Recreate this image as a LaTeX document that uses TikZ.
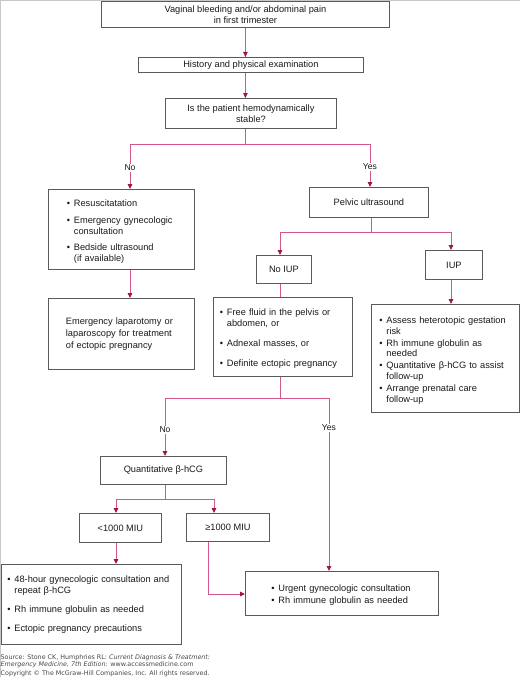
\documentclass[tikz,border=0pt]{standalone}
\usepackage{fontspec}
\setmainfont{Liberation Sans}
\newfontfamily\footfont{DejaVu Sans}
\usetikzlibrary{arrows.meta}
\definecolor{lnpink}{RGB}{208,88,138}
\definecolor{tipred}{RGB}{160,20,72}
\definecolor{boxgray}{RGB}{90,90,90}
\definecolor{txt}{RGB}{25,25,25}
\definecolor{edgegray}{RGB}{200,200,200}
\definecolor{foot}{RGB}{70,70,70}
\newcommand\bitem[1]{\par\hangindent=7pt\hangafter=1\noindent\makebox[7pt][l]{\textbullet}#1\par}
\begin{document}
\begin{tikzpicture}[x=1pt,y=-1pt,
  box/.style={draw=boxgray, line width=0.85pt, rectangle, inner sep=0pt, anchor=north west,
    font=\fontsize{9.25}{11}\selectfont, text=txt},
  cbox/.style={box, align=center},
  lbox/.style={box, align=left},
  ln/.style={draw=lnpink, line width=0.9pt},
  arr/.style={ln, -{Triangle[width=4.5pt,length=5pt,color=tipred]}},
  lbl/.style={fill=white, inner sep=1pt, font=\fontsize{8.6}{10}\selectfont, text=txt},
  foottxt/.style={anchor=base west, inner sep=0pt, font=\footfont\fontsize{6.35}{7}\selectfont, text=foot}]
\useasboundingbox (0,0) rectangle (520,677);
\draw[edgegray, line width=1pt] (0.5,0) -- (0.5,677);
\draw[edgegray, line width=1pt] (0,0.5) -- (520,0.5);

% boxes
\node[cbox, minimum width=288pt, minimum height=26pt] (top) at (101,1) {Vaginal bleeding and/or abdominal pain\\in first trimester};
\node[cbox, minimum width=225pt, minimum height=15pt] (hist) at (138,57) {History and physical examination};
\node[cbox, minimum width=171pt, minimum height=30pt] (stable) at (165,98) {Is the patient hemodynamically\\stable?};
\node[lbox, text width=146pt, minimum height=80pt] (resus) at (48,189) {\leftskip=18.5pt
  \bitem{Resuscitatation}\vspace{5.5pt}
  \bitem{Emergency gynecologic\newline consultation}\vspace{5pt}
  \bitem{Bedside ultrasound\newline (if available)}};
\node[lbox, text width=146pt, minimum height=71pt, font=\fontsize{9.25}{12}\selectfont] (lap) at (48,298) {\leftskip=17.5pt
  Emergency laparotomy or\newline laparoscopy for treatment\newline of ectopic pregnancy\par};
\node[cbox, minimum width=119pt, minimum height=30pt] (pelvic) at (309,187) {Pelvic ultrasound};
\node[cbox, minimum width=55pt, minimum height=28pt] (noiup) at (256,255) {No IUP};
\node[cbox, minimum width=57pt, minimum height=29pt] (iup) at (425,250) {IUP};
\node[lbox, text width=139pt, minimum height=79pt] (free) at (213,297) {\leftskip=6.5pt
  \bitem{Free fluid in the pelvis or\newline abdomen, or}\vspace{9pt}
  \bitem{Adnexal masses, or}\vspace{9pt}
  \bitem{Definite ectopic pregnancy}};
\node[lbox, text width=148pt, minimum height=108pt, font=\fontsize{9.25}{10.6}\selectfont] (assess) at (371,304) {\leftskip=8pt
  \bitem{Assess heterotopic gestation\newline risk}\vspace{1.5pt}
  \bitem{Rh immune globulin as\newline needed}\vspace{1.5pt}
  \bitem{Quantitative β-hCG to assist\newline follow-up}\vspace{1.5pt}
  \bitem{Arrange prenatal care\newline follow-up}};
\node[cbox, minimum width=126pt, minimum height=28pt] (quant) at (100,456) {Quantitative β-hCG};
\node[cbox, minimum width=82pt, minimum height=29pt] (lt) at (79,513) {<1000 MIU};
\node[cbox, minimum width=83pt, minimum height=28pt] (ge) at (186,513) {≥1000 MIU};
\node[lbox, text width=180pt, minimum height=80pt] (h48) at (0.5,564) {\leftskip=6.5pt
  \bitem{48-hour gynecologic consultation and\newline repeat β-hCG}\vspace{8pt}
  \bitem{Rh immune globulin as needed}\vspace{8pt}
  \bitem{Ectopic pregnancy precautions}\vspace{4pt}};
\node[lbox, text width=193pt, minimum height=44pt] (urgent) at (245,571) {\leftskip=26pt
  \bitem{Urgent gynecologic consultation}\vspace{1pt}
  \bitem{Rh immune globulin as needed}};

% junctions
\coordinate (j1) at (245,144);
\coordinate (jNo) at (130,144);
\coordinate (jYes) at (370,144);
\coordinate (j2) at (371,232);
\coordinate (jA) at (280,232);
\coordinate (jB) at (451,232);
\coordinate (j3) at (280,398);
\coordinate (jC) at (165,398);
\coordinate (jD) at (329,398);
\coordinate (j4) at (165,499);
\coordinate (jE) at (116,499);
\coordinate (jF) at (214,499);
\coordinate (jG) at (208,594);

% connectors
\draw[arr] (top.south) -- (top.south |- hist.north);
\draw[arr] (hist.south -| top.south) -- (stable.north -| top.south);
\draw[ln] (stable.south -| j1) -- (j1);
\draw[ln] (jNo) -- (jYes);
\draw[arr] (jNo) -- (jNo |- resus.north);
\draw[arr] (jYes) -- (jYes |- pelvic.north);
\draw[arr] (resus.south -| jNo) -- (lap.north -| jNo);
\draw[ln] (pelvic.south -| j2) -- (j2);
\draw[ln] (jA) -- (jB);
\draw[arr] (jA) -- (jA |- noiup.north);
\draw[arr] (jB) -- (jB |- iup.north);
\draw[ln] (noiup.south -| jA) -- (free.north -| jA);
\draw[arr] (iup.south -| jB) -- (assess.north -| jB);
\draw[ln] (free.south -| j3) -- (j3);
\draw[ln] (jC) -- (jD);
\draw[arr] (jC) -- (jC |- quant.north);
\draw[arr] (jD) -- (jD |- urgent.north);
\draw[ln] (quant.south -| j4) -- (j4);
\draw[ln] (jE) -- (jF);
\draw[arr] (jE) -- (jE |- lt.north);
\draw[arr] (jF) -- (jF |- ge.north);
\draw[arr] (lt.south -| jE) -- (h48.north -| jE);
\draw[arr] (ge.south -| jG) -- (jG) -- (urgent.west |- jG);

% labels
\node[lbl] (lNo1) at (130,168) {No};
\node[lbl] (lYes1) at (370,167) {Yes};
\node[lbl] (lNo2) at (165,430) {No};
\node[lbl] (lYes2) at (329,428) {Yes};

% footer
\node[foottxt] (f1) at (0.5,659) {Source: Stone CK, Humphries RL: \textit{Current Diagnosis \& Treatment:}};
\node[foottxt] (f2) at (0.5,666.5) {\textit{Emergency Medicine, 7th Edition:} www.accessmedicine.com};
\node[foottxt] (f3) at (0.5,675.3) {Copyright © The McGraw-Hill Companies, Inc. All rights reserved.};
\end{tikzpicture}
\end{document}
